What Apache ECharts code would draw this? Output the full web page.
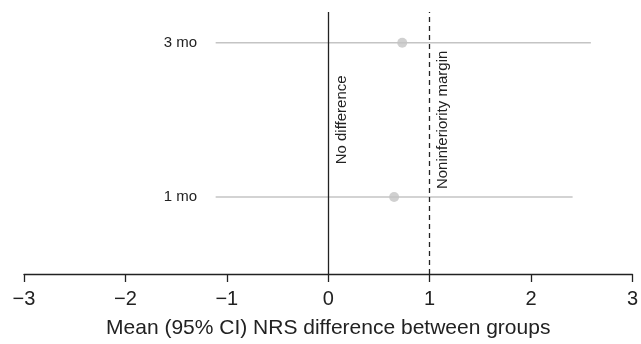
<!DOCTYPE html>
<html><head><meta charset="utf-8">
<script src="https://cdn.jsdelivr.net/npm/echarts@6/dist/echarts.min.js"></script>
<style>html,body{margin:0;padding:0;background:#fff}#c{width:641px;height:344px}</style>
</head><body><div id="c"></div>
<script>
const categories = ['1 mo', '3 mo'];
const means = [0.65, 0.73];
const lower = [-1.11, -1.11];
const upper = [2.41, 2.59];
const xTicks = [-3, -2, -1, 0, 1, 2, 3];
const refLines = [0, 1];
const refLabels = ['No difference', 'Noninferiority margin'];

const font = 'Liberation Sans, Arial, sans-serif';
const series = [];
categories.forEach((c, i) => {
  series.push({
    type: 'line', data: [[lower[i], i + 1], [upper[i], i + 1]],
    symbol: 'none', lineStyle: {color: '#c4c4c4', width: 1.5}, silent: true, z: 2
  });
});
const lineData = refLines.map((v, i) => ({
  xAxis: v,
  lineStyle: {color: '#222', width: 1.3, type: i === 0 ? 'solid' : [5, 4]},
  label: {show: false}
}));
const labelData = refLines.map((v, i) => [
  {coord: [v, 1], lineStyle: {color: 'rgba(0,0,0,0)', width: 0},
   label: {show: true, formatter: refLabels[i], position: 'insideMiddleBottom',
     color: '#222', fontFamily: font, fontSize: 15, distance: 6}},
  {coord: [v, categories.length]}
]);
series.push({
  type: 'scatter', data: means.map((m, i) => [m, i + 1]),
  symbolSize: 10, itemStyle: {color: '#c4c4c4'}, z: 3,
  markLine: {silent: true, symbol: 'none', data: lineData.concat(labelData)}
});

const chart = echarts.init(document.getElementById('c'));
chart.setOption({
  animation: false,
  grid: {left: 24, right: 7, top: 12, bottom: 68.5},
  xAxis: {
    type: 'value', min: -3, max: 3, interval: 1,
    axisLine: {show: true, lineStyle: {color: '#222', width: 1.3}},
    axisTick: {show: true, length: 8, lineStyle: {color: '#222', width: 1.3}},
    splitLine: {show: false},
    axisLabel: {color: '#222', fontFamily: font, fontSize: 20, margin: 15,
      formatter: v => xTicks.includes(v) ? (v < 0 ? '\u2212' + Math.abs(v) : String(v)) : ''},
    name: 'Mean (95% CI) NRS difference between groups', nameLocation: 'middle', nameGap: 44,
    nameTextStyle: {color: '#222', fontFamily: font, fontSize: 21}
  },
  yAxis: {
    type: 'value', min: 0.5, max: 2.2, interval: 0.5,
    axisLine: {show: false}, axisTick: {show: false}, splitLine: {show: false},
    axisLabel: {color: '#222', fontFamily: font, fontSize: 15, margin: -173,
      formatter: v => { const k = Math.round(v); return Math.abs(v - k) < 1e-6 && categories[k - 1] ? categories[k - 1] : ''; }}
  },
  series: series
});
</script></body></html>
